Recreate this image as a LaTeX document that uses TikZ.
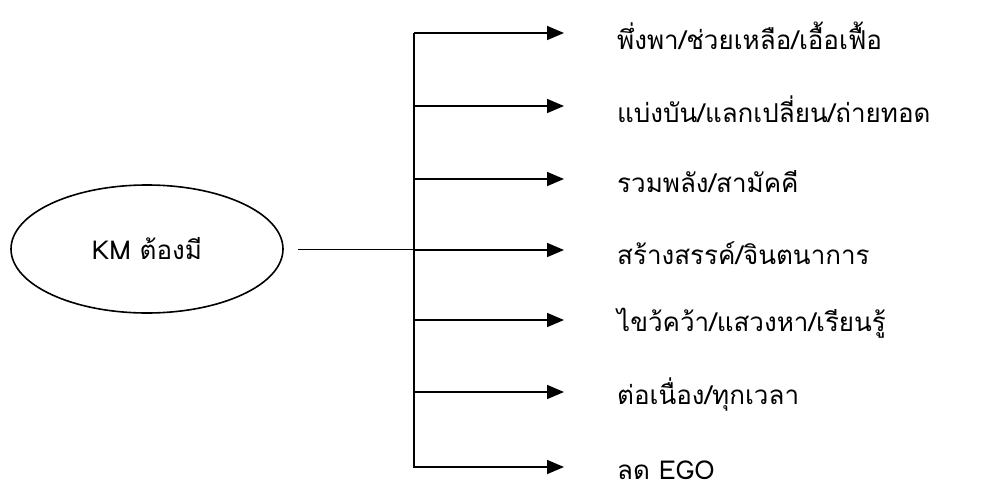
\documentclass[tikz,border=0pt]{standalone}
\usepackage{fontspec}
\newfontfamily\thaifont[Script=Thai]{Loma}
\usetikzlibrary{arrows.meta,shapes.geometric}
\begin{document}
\begin{tikzpicture}[x=1pt,y=-1pt,
  hub/.style={draw,line width=1.6pt,ellipse,minimum width=272pt,minimum height=128pt,inner sep=0pt,font=\thaifont\fontsize{26}{30}\selectfont},
  item/.style={anchor=west,inner sep=0pt,font=\thaifont\fontsize{26}{30}\selectfont},
  branch/.style={line width=1.6pt,-{Triangle[length=17pt,width=14pt]}},
  trunk/.style={line width=1.2pt}]
\useasboundingbox (0,0) rectangle (987,492);
\node[hub] (km) at (147,249) {KM ต้องมี};
\coordinate (top) at (414,33);
\coordinate (bot) at (414,468);
\coordinate (mid) at (414,249);
\draw[trunk] (top) -- (bot);
\draw[line width=1pt] ([xshift=14pt]km.east) -- (mid);
\foreach \i/\y/\t in {1/33/{พึ่งพา/ช่วยเหลือ/เอื้อเฟื้อ},
                      2/106/{แบ่งบัน/แลกเปลี่ยน/ถ่ายทอด},
                      3/179/{รวมพลัง/สามัคคี},
                      4/250/{สร้างสรรค์/จินตนาการ},
                      5/320/{ไขว้คว้า/แสวงหา/เรียนรู้},
                      6/392/{ต่อเนื่อง/ทุกเวลา},
                      7/467/{ลด EGO}}{
  \coordinate (s\i) at (414,\y);
  \coordinate (e\i) at (564,\y);
  \node[item] (t\i) at (617,\y+3) {\t};
  \draw[branch] (s\i) -- (e\i);
}
\end{tikzpicture}
\end{document}
